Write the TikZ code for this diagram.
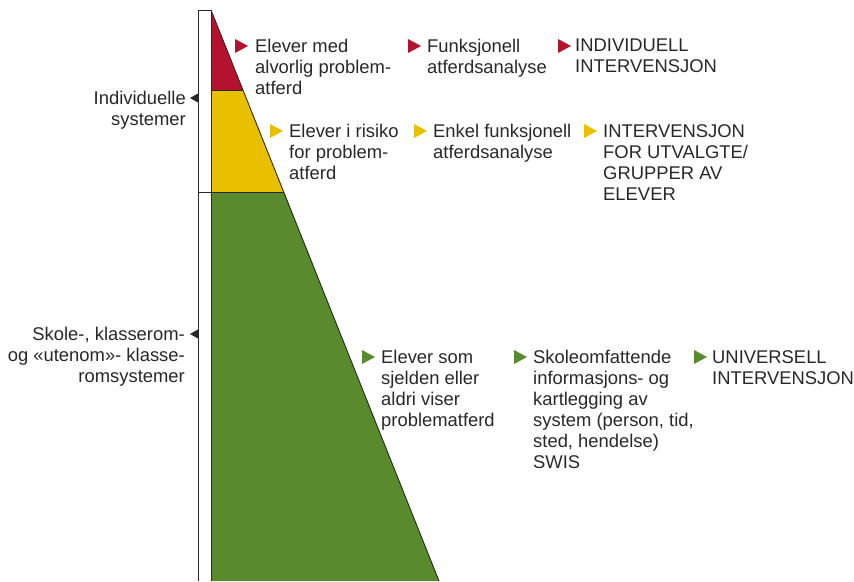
\documentclass[tikz,border=0pt]{standalone}
\usepackage{fontspec}
\setmainfont{Liberation Sans}
\definecolor{pbsred}{RGB}{181,18,47}
\definecolor{pbsyellow}{RGB}{232,192,0}
\definecolor{pbsgreen}{RGB}{90,138,46}
\definecolor{pbstext}{RGB}{40,40,40}
\tikzset{
	tekst/.style={anchor=north west, inner sep=0pt, align=left, text=pbstext, font=\fontsize{18.4}{21}\selectfont},
	system/.style={anchor=north east, inner sep=0pt, align=right, text=pbstext, font=\fontsize{18.4}{21}\selectfont},
	pics/merke/.style={code={\fill[#1] (-6,-7) -- (7,0) -- (-6,7) -- cycle;}},
	pics/pil/.style={code={\fill[pbstext] (0,0) -- (8,-4.5) -- (8,4.5) -- cycle;}}
}
\begin{document}
\begin{tikzpicture}[x=1pt,y=-1pt]
	\useasboundingbox (0,0) rectangle (854,581);
	% Pyramide
	\coordinate (topp) at (211,10);
	\coordinate (r1) at (243,90);
	\coordinate (r2) at (284,192);
	\coordinate (bunn) at (439,581);
	\fill[pbsred] (topp) -- (r1) -- (211,90) -- cycle;
	\fill[pbsyellow] (211,90) -- (r1) -- (r2) -- (211,192) -- cycle;
	\fill[pbsgreen] (211,192) -- (r2) -- (bunn) -- (211,581) -- cycle;
	\draw[pbstext, line width=0.9pt] (topp) -- (bunn);
	\draw[pbstext, line width=0.7pt] (211,90) -- (r1);
	\draw[pbstext, line width=0.9pt] (198,192) -- (r2);
	% Stolpe
	\draw[pbstext, line width=0.9pt] (198,581) -- (198,10) -- (211,10) -- (211,581);
	% Systemnivaa
	\pic at (190,98) {pil};
	\node[system] (indsys) at (186,91) {Individuelle\\systemer};
	\pic at (190,334) {pil};
	\node[system] (skolesys) at (185,327) {Skole-, klasserom-\\og «utenom»- klasse-\\romsystemer};
	% Rad 1
	\pic at (241,46) {merke=pbsred};
	\node[tekst] (elev1) at (255,39) {Elever med\\alvorlig problem-\\atferd};
	\pic at (414,46) {merke=pbsred};
	\node[tekst] (analyse1) at (427,39) {Funksjonell\\atferdsanalyse};
	\pic at (564,46) {merke=pbsred};
	\node[tekst] (tiltak1) at (575,39) {INDIVIDUELL\\INTERVENSJON};
	% Rad 2
	\pic at (276,131) {merke=pbsyellow};
	\node[tekst] (elev2) at (289,124) {Elever i risiko\\for problem-\\atferd};
	\pic at (420,131) {merke=pbsyellow};
	\node[tekst] (analyse2) at (433,124) {Enkel funksjonell\\atferdsanalyse};
	\pic at (590,131) {merke=pbsyellow};
	\node[tekst] (tiltak2) at (603,124) {INTERVENSJON\\FOR UTVALGTE/\\GRUPPER AV\\ELEVER};
	% Rad 3
	\pic at (368,357) {merke=pbsgreen};
	\node[tekst] (elev3) at (381,350) {Elever som\\sjelden eller\\aldri viser\\problematferd};
	\pic at (520,357) {merke=pbsgreen};
	\node[tekst] (analyse3) at (533,350) {Skoleomfattende\\informasjons- og\\kartlegging av\\system (person, tid,\\sted, hendelse)\\SWIS};
	\pic at (700,357) {merke=pbsgreen};
	\node[tekst] (tiltak3) at (712,350) {UNIVERSELL\\INTERVENSJON};
\end{tikzpicture}
\end{document}
